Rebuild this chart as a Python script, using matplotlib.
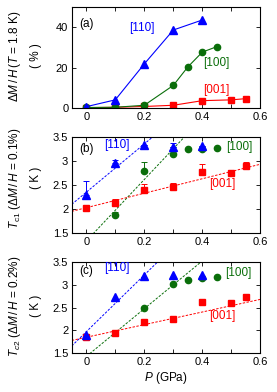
import matplotlib
matplotlib.use("Agg")
import matplotlib.pyplot as plt
import numpy as np
from matplotlib.ticker import MultipleLocator

plt.rcParams["font.family"] = ["Liberation Sans", "DejaVu Sans"]
plt.rcParams["mathtext.fontset"] = "custom"
plt.rcParams["mathtext.rm"] = "Liberation Sans"
plt.rcParams["mathtext.it"] = "Liberation Sans:italic"

BLUE = "#0000ff"; GREEN = "#0a6e0a"; RED = "#ff0000"

# panel (a): dM/H at 1.8 K (%)
a110_p = [0, 0.1, 0.2, 0.3, 0.4]
a110_v = [0.5, 3.9, 21.8, 38.7, 43.7]
a100_p = [0, 0.1, 0.2, 0.3, 0.35, 0.4, 0.45]
a100_v = [0.1, 0.2, 1.2, 11.1, 20.3, 27.7, 30.4]
a001_p = [0, 0.1, 0.2, 0.3, 0.4, 0.5, 0.55]
a001_v = [0.0, 0.2, 0.6, 1.2, 3.5, 3.9, 4.5]

# panel (b): Tc1 (K), upper error bars only
b110_p = [0, 0.1, 0.2, 0.3, 0.4]
b110_v = [2.30, 2.95, 3.32, 3.29, 3.31]
b110_e = [0.28, 0.06, 0.0, 0.08, 0.0]
b100_p = [0.1, 0.2, 0.3, 0.35, 0.4, 0.45]
b100_v = [1.88, 2.80, 3.15, 3.25, 3.25, 3.27]
b100_e = [0.07, 0.18, 0.13, 0.0, 0.0, 0.0]
b001_p = [0, 0.1, 0.2, 0.3, 0.4, 0.5, 0.55]
b001_v = [2.02, 2.12, 2.40, 2.45, 2.76, 2.75, 2.90]
b001_e = [0.0, 0.09, 0.12, 0.10, 0.17, 0.0, 0.08]

# panel (c): Tc2 (K)
c110_p = [0, 0.1, 0.2, 0.3, 0.4]
c110_v = [1.91, 2.72, 3.19, 3.20, 3.22]
c100_p = [0.2, 0.3, 0.35, 0.4, 0.45]
c100_v = [2.50, 3.01, 3.10, 3.14, 3.16]
c001_p = [0, 0.1, 0.2, 0.3, 0.4, 0.5, 0.55]
c001_v = [1.85, 1.95, 2.18, 2.25, 2.63, 2.60, 2.72]

# linear fits (slope, intercept)
b_fits = {"110": (5.0, 2.35), "100": (6.37, 1.34), "001": (1.5, 2.03)}
c_fits = {"110": (6.2, 1.97), "100": (5.22, 1.43), "001": (1.38, 1.85)}

fig = plt.figure(figsize=(2.77, 3.92), dpi=100)
L, W = 0.259, 0.681
axa = fig.add_axes([L, 0.7253, W, 0.256])
axb = fig.add_axes([L, 0.4048, W, 0.2465])
axc = fig.add_axes([L, 0.0987, W, 0.2337])

def style(ax, ylim, ymaj):
    ax.set_xlim(-0.05, 0.6)
    ax.set_ylim(*ylim)
    ax.xaxis.set_major_locator(MultipleLocator(0.2))
    ax.xaxis.set_minor_locator(MultipleLocator(0.1))
    ax.yaxis.set_major_locator(MultipleLocator(ymaj))
    ax.tick_params(which="both", direction="in", top=True, right=True,
                   length=3, width=0.6, labelsize=8, pad=3)
    ax.tick_params(axis="y", pad=2.5)
    for s in ax.spines.values():
        s.set_linewidth(0.8)
    ax.xaxis.set_major_formatter(matplotlib.ticker.FuncFormatter(
        lambda v, p: "0" if abs(v) < 1e-9 else f"{v:g}"))
    ax.yaxis.set_major_formatter(matplotlib.ticker.FuncFormatter(
        lambda v, p: f"{v:g}"))

# (a)
axa.plot(a001_p, a001_v, "-s", color=RED, ms=4.5, lw=0.8)
axa.plot(a100_p, a100_v, "-o", color=GREEN, ms=4.5, lw=0.8)
axa.plot(a110_p, a110_v, "-^", color=BLUE, ms=5.5, lw=0.8)
style(axa, (0, 50), 20)

def fit_line(ax, fit, color):
    xs = np.array([-0.05, 0.6])
    ax.plot(xs, fit[0] * xs + fit[1], ls=(0, (2.5, 1.5)), color=color, lw=0.7)

def errs(ax, p, v, e, color, marker, ms):
    ax.errorbar(p, v, yerr=[np.zeros(len(e)), e], fmt=marker, color=color,
                ms=ms, elinewidth=0.7, capsize=2, capthick=0.7, lw=0)

# (b)
fit_line(axb, b_fits["110"], BLUE)
fit_line(axb, b_fits["100"], GREEN)
fit_line(axb, b_fits["001"], RED)
errs(axb, b001_p, b001_v, b001_e, RED, "s", 4.5)
errs(axb, b100_p, b100_v, b100_e, GREEN, "o", 4.5)
errs(axb, b110_p, b110_v, b110_e, BLUE, "^", 5.5)
style(axb, (1.5, 3.5), 0.5)

# (c)
fit_line(axc, c_fits["110"], BLUE)
fit_line(axc, c_fits["100"], GREEN)
fit_line(axc, c_fits["001"], RED)
axc.plot(c001_p, c001_v, "s", color=RED, ms=4.5)
axc.plot(c100_p, c100_v, "o", color=GREEN, ms=4.5)
axc.plot(c110_p, c110_v, "^", color=BLUE, ms=5.5)
style(axc, (1.5, 3.5), 0.5)
axc.set_xlabel(r"$P$ (GPa)", fontsize=8.5, labelpad=2)

# panel annotations
fs = 8.5
for ax, tag, pos in [(axa, "(a)", (0.04, 0.834)), (axb, "(b)", (0.04, 0.873)),
                     (axc, "(c)", (0.04, 0.898))]:
    ax.text(*pos, tag, transform=ax.transAxes, fontsize=fs, va="center")

labels = {
    axa: [((0.371, 0.79), BLUE), ((0.768, 0.442), GREEN), ((0.764, 0.176), RED)],
    axb: [((0.238, 0.914), BLUE), ((0.888, 0.896), GREEN), ((0.80, 0.507), RED)],
    axc: [((0.238, 0.928), BLUE), ((0.882, 0.873), GREEN), ((0.80, 0.41), RED)],
}
for ax, items in labels.items():
    for (pos, col), name in zip(items, ["[110]", "[100]", "[001]"]):
        ax.text(*pos, name, transform=ax.transAxes, color=col, fontsize=fs,
                ha="center", va="center")

# y labels (two lines each)
def ylab(y, line1, line2):
    fig.text(15 / 277, y, line1, rotation=90, ha="center", va="center", fontsize=8.5)
    fig.text(36 / 277, y, line2, rotation=90, ha="center", va="center", fontsize=8.5)

ylab(1 - 56 / 392, r"$\Delta M\,/\,H\,(T$ = 1.8 K)", "( % )")
ylab(1 - 178 / 392, r"$T_{\rm c1}$ ($\Delta M\,/\,H$ = 0.1%)", "( K )")
ylab(1 - 306 / 392, r"$T_{c2}$ ($\Delta M\,/\,H$ = 0.2%)", "( K )")

fig.savefig("out.png", dpi=100)
